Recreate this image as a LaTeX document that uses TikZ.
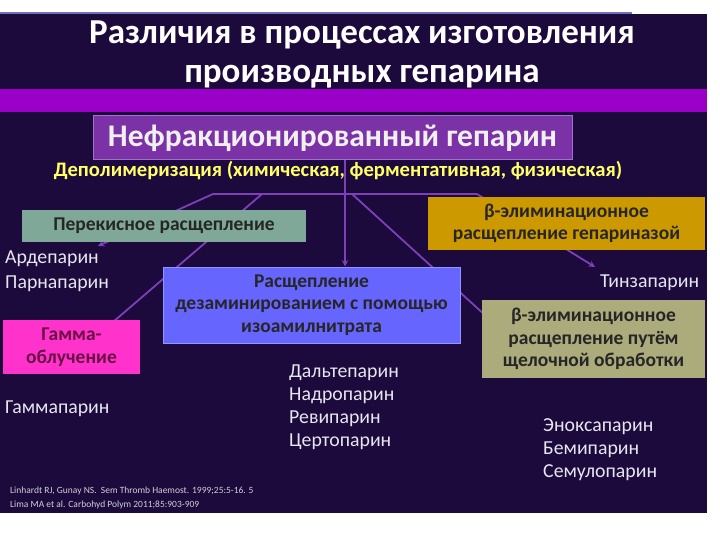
\documentclass[tikz,border=0pt]{standalone}
\usepackage{fontspec}
\setmainfont{Carlito}
\pgfdeclarelayer{back}
\pgfdeclarelayer{wires}
\pgfsetlayers{back,wires,main}
\definecolor{slidebg}{HTML}{1D0A3D}
\definecolor{band}{HTML}{9A00C8}
\definecolor{topline}{HTML}{7070C0}
\definecolor{mainfill}{HTML}{7B32A6}
\definecolor{mainedge}{HTML}{A070CC}
\definecolor{wirecol}{HTML}{7D40B8}
\definecolor{depoly}{HTML}{FFFF66}
\definecolor{teal}{HTML}{7FA898}
\definecolor{gold}{HTML}{CC9900}
\definecolor{bluebox}{HTML}{6666FF}
\definecolor{magbox}{HTML}{FF33CC}
\definecolor{magtext}{HTML}{6A1045}
\definecolor{olive}{HTML}{ABAB7C}
\definecolor{drugtext}{HTML}{E6E6EE}
\begin{document}
\begin{tikzpicture}[x=1pt, y=-1pt,
        box/.style={rectangle, inner sep=0pt, align=center, text=black!85, font=\bfseries\fontsize{19.5}{22.5}\selectfont},
        drug/.style={anchor=west, inner sep=0pt, align=left, text=drugtext, font=\fontsize{19.8}{23}\selectfont},
        wire/.style={draw=wirecol, line width=1.8pt},
        arrow/.style={wire, ->, >=stealth}
    ]
        \useasboundingbox (0,0) rectangle (720,540);

        % title
        \node[text=white, align=center, font=\bfseries\fontsize{35}{39}\selectfont] (title) at (362,54) {Различия в процессах изготовления\\производных гепарина};

        \node[box, minimum width=479pt, minimum height=44pt, fill=mainfill, draw=mainedge, line width=1pt, text=white!94!black, font=\bfseries\fontsize{31.5}{34}\selectfont] (main) at (332.5,138) {Нефракционированный гепарин};
        \node[text=depoly, inner sep=0pt, font=\bfseries\fontsize{20.6}{24}\selectfont] (depol) at (338,171) {Деполимеризация (химическая, ферментативная, физическая)};

        % methods
        \node[box, fill=teal, minimum width=284pt, minimum height=32pt] (perox) at (164,226) {Перекисное расщепление};
        \node[box, fill=gold, minimum width=277pt, minimum height=53pt] (hepz) at (566.5,223.5) {β-элиминационное\\расщепление гепариназой};
        \node[box, fill=bluebox, draw=bluebox!70!white, line width=1pt, minimum width=297pt, minimum height=76pt] (cut) at (311.5,305) {Расщепление\\дезаминированием с помощью\\изоамилнитрата};
        \node[box, fill=magbox, text=magtext, minimum width=137pt, minimum height=54pt] (gamma) at (71.5,347) {Гамма-\\облучение};
        \node[box, fill=olive, minimum width=223pt, minimum height=78pt] (alk) at (593.5,339) {β-элиминационное\\расщепление путём\\щелочной обработки};

        % products
        \node[drug, font=\fontsize{19.8}{25}\selectfont] (ard) at (5,271) {Ардепарин\\Парнапарин};
        \node[drug] (gam) at (5,409) {Гаммапарин};
        \node[drug] (tin) at (600,283) {Тинзапарин};
        \node[drug] (dal) at (289,407.5) {Дальтепарин\\Надропарин\\Ревипарин\\Цертопарин};
        \node[drug] (eno) at (543,450) {Эноксапарин\\Бемипарин\\Семулопарин};

        % references
        \node[anchor=west, inner sep=0pt, align=left, text=drugtext!90!black, font=\fontsize{9.5}{14}\selectfont] (refs) at (10,498) {Linhardt RJ, Gunay NS.\ \ Sem Thromb Haemost. 1999;25:5-16. 5\\Lima MA et al. Carbohyd Polym 2011;85:903-909};

        \begin{pgfonlayer}{back}
            \fill[slidebg] (0,14) rectangle (707,513);
            \draw[topline, line width=1.5pt] (0,13) -- (632,13);
            \fill[band] (0,89) rectangle (707,112);
        \end{pgfonlayer}

        \coordinate (bL) at (213,194);
        \coordinate (bG) at (262,194);
        \coordinate (bV) at (345,194);
        \coordinate (bO) at (352,194);
        \coordinate (bR) at (477,194);
        \coordinate (ardTip) at (98,246);
        \coordinate (gamIn) at (113,322);
        \coordinate (alkIn) at (486,316);
        \coordinate (tinTip) at (595,267);

        \begin{pgfonlayer}{wires}
            \draw[wire] (bL) -- (bR);
            \draw[arrow] (bL) -- (ardTip);
            \draw[wire] (bG) -- (gamIn);
            \draw[arrow] (main.south -| bV) -- (cut.north -| bV);
            \draw[wire] (bO) -- (alkIn);
            \draw[arrow] (bR) -- (tinTip);
        \end{pgfonlayer}
    \end{tikzpicture}
\end{document}
